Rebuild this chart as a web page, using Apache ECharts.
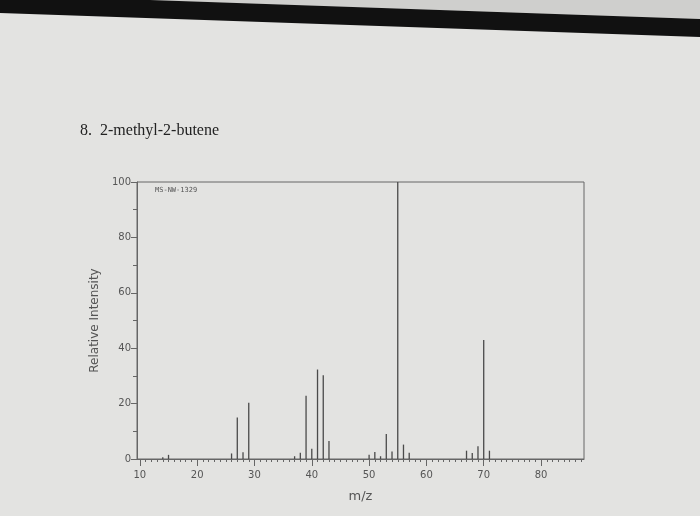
<!DOCTYPE html>
<html>
<head>
<meta charset="utf-8">
<script src="https://cdn.jsdelivr.net/npm/echarts@6/dist/echarts.min.js"></script>
<style>
html,body{margin:0;padding:0;background:#e3e3e1;}
#c{width:700px;height:516px;}
</style>
</head>
<body>
<div id="c"></div>
<script>
// m/z values and relative intensities
var mzValues = [14, 15, 26, 27, 28, 29, 37, 38, 39, 40, 41, 42, 43, 50, 51, 52, 53, 54, 55, 56, 57, 67, 68, 69, 70, 71];
var intensities = [0.6, 1.5, 2, 15, 2.4, 20.3, 1, 2.3, 22.8, 3.7, 32.3, 30.2, 6.5, 1.5, 2.5, 1, 9, 2.7, 100, 5.2, 2.3, 3, 2.2, 4.6, 43, 3];
var xTicks = [10, 20, 30, 40, 50, 60, 70, 80];
var yTicks = [0, 20, 40, 60, 80, 100];
var titleText = '8.  2-methyl-2-butene';
var codeText = 'MS-NW-1329';
var xName = 'm/z';
var yName = 'Relative Intensity';

var points = mzValues.map(function (m, i) { return [m, intensities[i]]; });
var unitTicks = [];
for (var t = 10; t <= 87; t++) unitTicks.push(t);

var X_MIN = 9.5, X_MAX = 87.5;

var chart = echarts.init(document.getElementById('c'), null, {renderer: 'canvas'});
chart.setOption({
  backgroundColor: '#e3e3e1',
  animation: false,
  graphic: [
    {type: 'polygon', silent: true, z: -1, shape: {points: [[150, 0], [700, 0], [700, 19]]}, style: {fill: '#cfcfcd'}},
    {type: 'polygon', silent: true, z: -1, shape: {points: [[0, 0], [150, 0], [700, 19], [700, 37], [0, 13]]}, style: {fill: '#111'}},
    {type: 'text', left: 80, top: 123, style: {text: titleText, font: '16px "Liberation Serif", serif', fill: '#222'}},
    {type: 'text', left: 155, top: 187, style: {text: codeText, font: '7px "DejaVu Sans Mono", monospace', fill: '#555'}}
  ],
  grid: {left: 137, top: 182, right: 116, bottom: 57, show: true, borderColor: '#666', borderWidth: 1, backgroundColor: 'transparent'},
  xAxis: [{
    type: 'value', min: X_MIN, max: X_MAX,
    name: xName, nameLocation: 'middle', nameGap: 31,
    nameTextStyle: {fontFamily: 'DejaVu Sans', fontSize: 13, color: '#555'},
    axisLine: {show: true, lineStyle: {color: '#666'}},
    axisTick: {show: true, length: 3, customValues: unitTicks, lineStyle: {color: '#666'}},
    axisLabel: {fontFamily: 'DejaVu Sans', fontSize: 10, color: '#555', margin: 11, customValues: xTicks},
    splitLine: {show: false}
  }, {
    type: 'value', min: X_MIN, max: X_MAX, position: 'bottom',
    axisLine: {show: false},
    axisTick: {show: true, length: 7, customValues: xTicks, lineStyle: {color: '#666'}},
    axisLabel: {show: false},
    splitLine: {show: false}
  }],
  yAxis: {
    type: 'value', min: 0, max: 100, interval: 20,
    name: yName, nameLocation: 'middle', nameGap: 36,
    nameTextStyle: {fontFamily: 'DejaVu Sans', fontSize: 12, color: '#555'},
    axisLine: {show: true, lineStyle: {color: '#666'}},
    axisTick: {show: true, length: 6, lineStyle: {color: '#666'}},
    minorTick: {show: true, splitNumber: 2, length: 4, lineStyle: {color: '#666'}},
    axisLabel: {fontFamily: 'DejaVu Sans', fontSize: 10, color: '#555', margin: 6,
      formatter: function (v) { return yTicks.indexOf(v) >= 0 ? String(v) : ''; }},
    splitLine: {show: false}
  },
  series: [{
    type: 'bar',
    xAxisIndex: 0,
    data: points,
    barWidth: 1.3,
    itemStyle: {color: '#4a4a4a'},
    silent: true
  }]
});
</script>
</body>
</html>
